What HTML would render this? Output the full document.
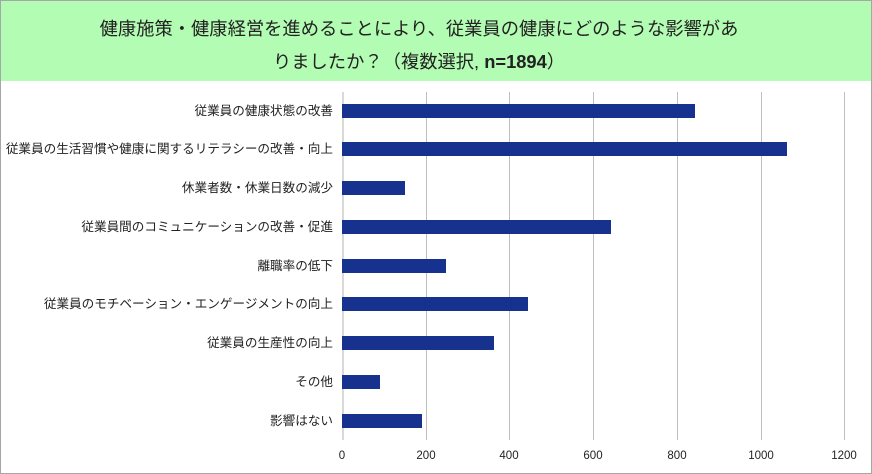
<!DOCTYPE html>
<html><head><meta charset="utf-8"><style>
body{margin:0;width:872px;height:474px;overflow:hidden;background:#fff;font-family:"Liberation Sans","Noto Sans CJK JP",sans-serif}
.frame{position:absolute;left:0;top:0;width:870px;height:472px;border:1px solid #a6a6a6}
.title{position:absolute;left:1px;top:1px;width:870px;height:80px;background:#b3fcb3;text-align:center;font-size:18.3px;line-height:33px;color:#222;padding-top:11px;padding-right:34px;box-sizing:border-box}
.g{position:absolute;top:92px;height:348px;width:1px;background:#bfbfbf}
.bar{position:absolute;left:342px;height:14px;background:#17318f}
.lab{position:absolute;right:539px;font-size:12.6px;color:#222;white-space:nowrap;line-height:14px}
.t{position:absolute;top:450px;font-size:11.5px;color:#222;width:40px;text-align:center;margin-left:-20px}
</style></head><body>
<div class="frame"></div>
<div class="title">健康施策・健康経営を進めることにより、従業員の健康にどのような影響があ<br>りましたか？（複数選択, <b>n=1894</b>）</div>
<div class="g" style="left:342px;background:#d9d9d9;width:2px"></div>
<div class="g" style="left:426px"></div><div class="g" style="left:509px"></div><div class="g" style="left:593px"></div><div class="g" style="left:677px"></div><div class="g" style="left:761px"></div><div class="g" style="left:844px"></div>
<div class="bar" style="top:104px;width:353px"></div>
<div class="bar" style="top:142px;width:445px"></div>
<div class="bar" style="top:181px;width:63px"></div>
<div class="bar" style="top:220px;width:269px"></div>
<div class="bar" style="top:259px;width:104px"></div>
<div class="bar" style="top:297px;width:186px"></div>
<div class="bar" style="top:336px;width:152px"></div>
<div class="bar" style="top:375px;width:38px"></div>
<div class="bar" style="top:414px;width:80px"></div>
<div class="lab" style="top:104px">従業員の健康状態の改善</div>
<div class="lab" style="top:142px">従業員の生活習慣や健康に関するリテラシーの改善・向上</div>
<div class="lab" style="top:181px">休業者数・休業日数の減少</div>
<div class="lab" style="top:220px">従業員間のコミュニケーションの改善・促進</div>
<div class="lab" style="top:259px">離職率の低下</div>
<div class="lab" style="top:297px">従業員のモチベーション・エンゲージメントの向上</div>
<div class="lab" style="top:336px">従業員の生産性の向上</div>
<div class="lab" style="top:375px">その他</div>
<div class="lab" style="top:414px">影響はない</div>
<div class="t" style="left:342px">0</div><div class="t" style="left:426px">200</div><div class="t" style="left:509px">400</div><div class="t" style="left:593px">600</div><div class="t" style="left:677px">800</div><div class="t" style="left:761px">1000</div><div class="t" style="left:844px">1200</div>
</body></html>
